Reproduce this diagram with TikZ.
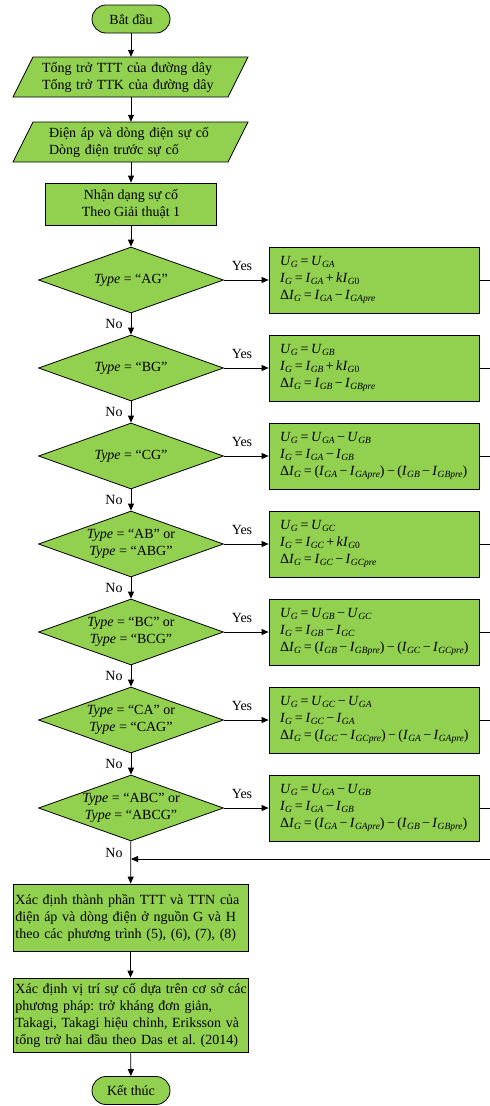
\documentclass[tikz,border=0pt]{standalone}
\usepackage{fontspec}
\setmainfont{Liberation Serif}
\usetikzlibrary{arrows.meta,shapes.geometric}
\definecolor{fillg}{RGB}{146,208,80}
\newcommand{\sv}[2]{\textit{#1}\raisebox{-2.6pt}{\fontsize{9.5}{9.5}\selectfont\textit{#2}}}
\newcommand{\kz}{\textit{k}\textit{I}\raisebox{-2.6pt}{\fontsize{9.5}{9.5}\selectfont\textit{G}0}}
\newcommand{\oeq}{\hspace{0.2em}=\hspace{0.2em}}
\newcommand{\omi}{\hspace{0.17em}−\hspace{0.17em}}
\newcommand{\opl}{\hspace{0.17em}+\hspace{0.17em}}
\newcommand{\sline}[1]{\makebox[230pt][s]{#1}}
\begin{document}
\frenchspacing
\begin{tikzpicture}[x=1pt,y=-1pt, font=\fontsize{14}{17}\selectfont,
 box/.style={draw=black, fill=fillg, line width=0.8pt, inner sep=0pt},
 term/.style={box, rounded corners=14pt, minimum width=78, minimum height=28},
 proc/.style={box, align=center},
 dec/.style={box, diamond, aspect=2.8, minimum width=185, minimum height=66, align=center},
 eqbox/.style={box, minimum height=66, text width=188, inner xsep=11pt, align=left},
 txtbox/.style={box, text width=230, inner xsep=2.5pt, align=left},
 arr/.style={-{Triangle[length=7pt,width=6pt]}, line width=0.8pt},
 ln/.style={line width=0.8pt},
 lbl/.style={inner sep=0pt}]
\useasboundingbox (0,0) rectangle (490,1106);

\node[term] (start) at (131,19) {Bắt đầu};

\draw[ln, fill=fillg] (33,57) -- (248,57) -- (228,97) -- (13,97) -- cycle;
\node[inner sep=0pt, text width=178, minimum height=40, align=left] (in1) at (131,77)
  {Tổng trở TTT của đường dây\\Tổng trở TTK của đường dây};
\draw[ln, fill=fillg] (33,122) -- (248,122) -- (228,162) -- (13,162) -- cycle;
\node[inner sep=0pt, text width=164, minimum height=40, align=left] (in2) at (131,142)
  {Điện áp và dòng điện sự cố\\Dòng điện trước sự cố};

\node[proc, minimum width=171, minimum height=42] (id) at (131,204) {Nhận dạng sự cố\\Theo Giải thuật 1};

\node[dec] (d1) at (131,280) {\textit{Type} = “AG”};
\node[dec] (d2) at (131,368) {\textit{Type} = “BG”};
\node[dec] (d3) at (131,456) {\textit{Type} = “CG”};
\node[dec] (d4) at (131,544) {\textit{Type} = “AB” or\\\textit{Type} = “ABG”};
\node[dec] (d5) at (131,632) {\textit{Type} = “BC” or\\\textit{Type} = “BCG”};
\node[dec] (d6) at (131,720) {\textit{Type} = “CA” or\\\textit{Type} = “CAG”};
\node[dec] (d7) at (131,808) {\textit{Type} = “ABC” or\\\textit{Type} = “ABCG”};

\node[eqbox] (b1) at (374,280) {\mbox{\sv{U}{G}\oeq\sv{U}{GA}}\\\mbox{\sv{I}{G}\oeq\sv{I}{GA}\opl\kz}\\\mbox{Δ\sv{I}{G}\oeq\sv{I}{GA}\omi\sv{I}{GApre}}};
\node[eqbox] (b2) at (374,368) {\mbox{\sv{U}{G}\oeq\sv{U}{GB}}\\\mbox{\sv{I}{G}\oeq\sv{I}{GB}\opl\kz}\\\mbox{Δ\sv{I}{G}\oeq\sv{I}{GB}\omi\sv{I}{GBpre}}};
\node[eqbox] (b3) at (374,456) {\mbox{\sv{U}{G}\oeq\sv{U}{GA}\omi\sv{U}{GB}}\\\mbox{\sv{I}{G}\oeq\sv{I}{GA}\omi\sv{I}{GB}}\\\mbox{Δ\sv{I}{G}\oeq(\sv{I}{GA}\omi\sv{I}{GApre})\omi(\sv{I}{GB}\omi\sv{I}{GBpre})}};
\node[eqbox] (b4) at (374,544) {\mbox{\sv{U}{G}\oeq\sv{U}{GC}}\\\mbox{\sv{I}{G}\oeq\sv{I}{GC}\opl\kz}\\\mbox{Δ\sv{I}{G}\oeq\sv{I}{GC}\omi\sv{I}{GCpre}}};
\node[eqbox] (b5) at (374,632) {\mbox{\sv{U}{G}\oeq\sv{U}{GB}\omi\sv{U}{GC}}\\\mbox{\sv{I}{G}\oeq\sv{I}{GB}\omi\sv{I}{GC}}\\\mbox{Δ\sv{I}{G}\oeq(\sv{I}{GB}\omi\sv{I}{GBpre})\omi(\sv{I}{GC}\omi\sv{I}{GCpre})}};
\node[eqbox] (b6) at (374,720) {\mbox{\sv{U}{G}\oeq\sv{U}{GC}\omi\sv{U}{GA}}\\\mbox{\sv{I}{G}\oeq\sv{I}{GC}\omi\sv{I}{GA}}\\\mbox{Δ\sv{I}{G}\oeq(\sv{I}{GC}\omi\sv{I}{GCpre})\omi(\sv{I}{GA}\omi\sv{I}{GApre})}};
\node[eqbox] (b7) at (374,808) {\mbox{\sv{U}{G}\oeq\sv{U}{GA}\omi\sv{U}{GB}}\\\mbox{\sv{I}{G}\oeq\sv{I}{GA}\omi\sv{I}{GB}}\\\mbox{Δ\sv{I}{G}\oeq(\sv{I}{GA}\omi\sv{I}{GApre})\omi(\sv{I}{GB}\omi\sv{I}{GBpre})}};

\node[txtbox, minimum height=67] (A) at (130.5,917.5)
  {\sline{Xác định thành phần TTT và TTN của}\\\sline{điện áp và dòng điện ở nguồn G và H}\\theo các phương trình (5), (6), (7), (8)};
\node[txtbox, minimum height=74] (B) at (130.5,1015)
  {\sline{Xác định vị trí sự cố dựa trên cơ sở các}\\\sline{phương pháp: trở kháng đơn giản,}\\\sline{Takagi, Takagi hiệu chỉnh, Eriksson và}\\tổng trở hai đầu theo Das et al. (2014)};

\node[term] (end) at (131,1090.5) {Kết thúc};

% main flow
\draw[arr] (start) -- (in1);
\draw[arr] (in1) -- (in2);
\draw[arr] (in2) -- (id);
\draw[arr] (id) -- (d1);
\draw[arr] (d1) -- (d2);
\draw[arr] (d2) -- (d3);
\draw[arr] (d3) -- (d4);
\draw[arr] (d4) -- (d5);
\draw[arr] (d5) -- (d6);
\draw[arr] (d6) -- (d7);
\draw[arr] (d7) -- (A);
\draw[arr] (A) -- (B);
\draw[arr] (B) -- (end);

% yes branches
\foreach \i/\y in {1/280,2/368,3/456,4/544,5/632,6/720,7/808}{
  \draw[arr] (d\i) -- (b\i);
  \node[lbl] (yes\i) at (242,\y-14) {Yes};
  \coordinate (e\i) at (490,\y);
  \draw[ln] (b\i) -- (e\i);
}
\foreach \i/\y in {1/324,2/412,3/500,4/588,5/676,6/764}{
  \node[lbl] (no\i) at (114,\y) {No};
}
\node[lbl] (no7) at (114,853) {No};

% return line
\coordinate (eR) at (490,859);
\coordinate (j) at (131,859);
\draw[arr] (eR) -- (j);
\end{tikzpicture}
\end{document}
